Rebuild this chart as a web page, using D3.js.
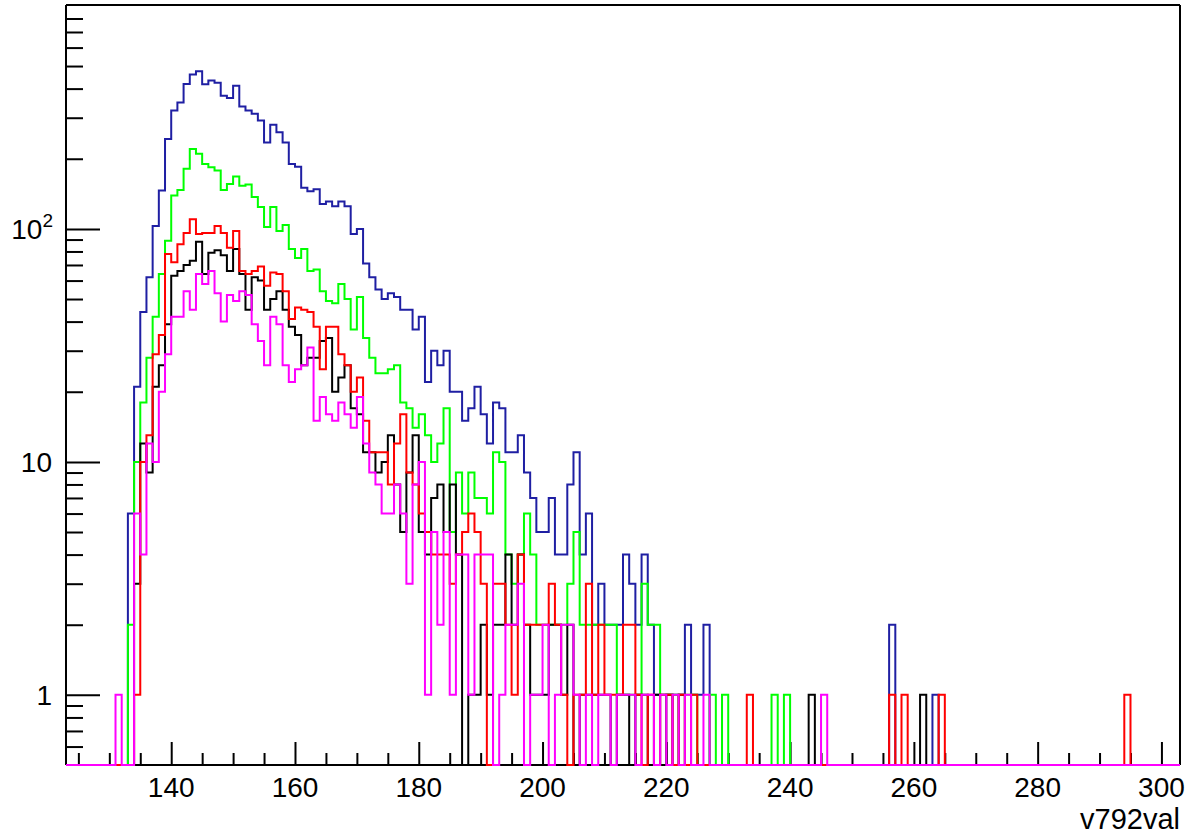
<!DOCTYPE html>
<html><head><meta charset="utf-8">
<script src="https://cdnjs.cloudflare.com/ajax/libs/d3/7.8.5/d3.min.js"></script>
<style>
body{margin:0;background:#fff;}
text{font-family:"Liberation Sans",Arial,Helvetica,sans-serif;fill:#000;}
</style></head>
<body>
<svg id="c" width="1188" height="834"></svg>
<script>
// Histogram bins have width 1; main arrays start at bin low edge 131
const firstBin = 131;
const blueMain = [0,0,6,21,44,62,103,146,243,322,349,419,460,475,418,433,424,373,365,412,335,322,312,292,235,280,260,235,190,185,150,145,148,128,131,125,131,125,95,100,71,62,55,50,53,51,45,45,37,42,22,30,26,30,20,20,15,17,21,16,12,18,17,11,11,13,9,7,5,5,7,4,4,8,11,4,6,2,3,2,2,2,4,3,2,4,2,1,1,1,1,1,2,1,1,2];
const blueTail = [[256,2],[263,1]];
const greenMain = [0,0,2,10,18,28,42,64,89,139,147,181,220,210,190,184,178,147,156,168,153,155,137,124,102,124,98,104,82,75,82,66,67,54,49,48,58,50,37,51,34,28,24,24,25,26,18,17,14,16,13,10,12,17,5,9,6,9,7,7,6,11,10,4,3,4,6,4,2,2,2,2,2,3,5,2,2,2,2,2,2,1,1,1,1,3,2,2,1,1,1,0,1,1,0,0,1,0,1];
const greenTail = [[237,1],[239,1]];
const blackMain = [0,0,0,3,12,9,21,26,39,63,66,70,73,88,64,79,81,77,66,82,64,45,62,60,45,50,54,45,38,35,26,28,28,33,34,20,23,26,17,16,11,11,9,10,13,8,5,9,13,5,4,7,8,5,8,4,0,1,1,2,1,2,2,4,2,4,2,1,1,1,2,2,1,2,0,1,1,1,1,1,0,1,1,0,1,1,0,1,0,1,0,1];
const blackTail = [[243,1],[261,1]];
const redMain = [0,0,0,1,10,13,29,35,78,72,86,96,110,95,96,96,103,96,83,98,66,64,66,69,57,65,64,54,41,46,45,44,38,25,38,38,29,26,20,23,15,11,11,11,8,12,16,9,8,6,5,4,4,4,3,4,5,6,5,3,0,3,3,2,1,4,2,2,2,2,3,2,1,0,1,1,3,1,2,1,1,1,2,2,1,0,1,0,1,1,0,1,0,1];
const redTail = [[233,1],[256,1],[258,1],[264,1],[294,1]];
const magentaMain = [1,0,0,6,4,12,10,20,29,42,42,54,45,64,58,66,53,40,52,49,54,52,39,33,26,42,39,26,22,25,26,31,15,19,16,15,18,16,14,19,12,9,8,6,6,8,6,3,8,10,1,5,2,5,1,4,4,1,4,4,4,0,1,2,2,3,0,1,1,2,0,1,2,2,1,0,1,0,1,1,0,1,1,1,0,1,1,0,1,0,1,0,1,0,0,1];
const magentaTail = [[245,1]];

const xMin = 123, xMax = 303;
const xMajorTicks = [140,160,180,200,220,240,260,280,300];
const xMinorTicks = d3.range(125,301,5).filter(v=>v%20!==0);
const yMajorTicks = [1,10,100];
const yMinorTicks = [0.6,0.7,0.8,0.9,2,3,4,5,6,7,8,9,20,30,40,50,60,70,80,90,200,300,400,500,600,700,800];
const xTitle = "v792val";

const series = [
  {name:"blue", main:blueMain, tail:blueTail, color:"#1f1fa3"},
  {name:"green", main:greenMain, tail:greenTail, color:"#00ff00"},
  {name:"black", main:blackMain, tail:blackTail, color:"#000000"},
  {name:"red", main:redMain, tail:redTail, color:"#ff0000"},
  {name:"magenta", main:magentaMain, tail:magentaTail, color:"#ff00ff"}
];

const L=66, R=1180, T=5, B=765;
const x = d3.scaleLinear().domain([xMin,xMax]).range([L,R]);
const y = d3.scaleLog().domain([0.5,914]).range([B,T]);
const svg = d3.select("#c");

function binsOf(s){
  const vals = new Map();
  s.main.forEach((v,i)=>vals.set(firstBin+i,v));
  s.tail.forEach(([b,v])=>vals.set(b,v));
  const pts=[];
  for(let e=xMin;e<xMax;e++){ pts.push([e, vals.get(e)||0]); }
  pts.push([xMax, vals.get(xMax-1)||0]);
  return pts;
}
const line = d3.line()
  .x(d=>x(d[0]))
  .y(d=>d[1]>=0.5 ? y(d[1]) : B)
  .curve(d3.curveStepAfter);

const g = svg.append("g");
series.forEach(s=>{
  g.append("path").attr("d", line(binsOf(s)))
   .attr("fill","none").attr("stroke",s.color).attr("stroke-width",2)
   .attr("stroke-linejoin","miter");
});

// frame top/right
svg.append("line").attr("x1",L).attr("x2",R).attr("y1",T).attr("y2",T).attr("stroke","#000").attr("stroke-width",2);
svg.append("line").attr("x1",R).attr("x2",R).attr("y1",T).attr("y2",B).attr("stroke","#000").attr("stroke-width",2);

// x axis
const xa = svg.append("g").attr("transform",`translate(0,${B})`);
xa.call(d3.axisBottom(x).tickValues(xMajorTicks).tickSize(-23).tickFormat(""));
xa.call(g2=>g2.select(".domain").remove());
const xa2 = svg.append("g").attr("transform",`translate(0,${B})`);
xa2.call(d3.axisBottom(x).tickValues(xMinorTicks).tickSize(-12).tickFormat(""));
xa2.select(".domain").remove();
svg.selectAll(".tick line").attr("stroke","#000").attr("stroke-width",2);
svg.append("g").selectAll("text").data(xMajorTicks).join("text")
  .attr("x",d=>x(d)).attr("y",797).attr("text-anchor","middle")
  .attr("font-size",28).text(d=>d);
svg.append("text").attr("x",1180).attr("y",829).attr("text-anchor","end")
  .attr("font-size",29).text(xTitle);

// y axis
const ya = svg.append("g").attr("transform",`translate(${L},0)`);
ya.call(d3.axisLeft(y).tickValues(yMajorTicks).tickSize(-34).tickFormat(""));
ya.select(".domain").remove();
const ya2 = svg.append("g").attr("transform",`translate(${L},0)`);
ya2.call(d3.axisLeft(y).tickValues(yMinorTicks).tickSize(-17).tickFormat(""));
ya2.select(".domain").remove();
svg.selectAll(".tick line").attr("stroke","#000").attr("stroke-width",2);
yMajorTicks.forEach(v=>{
  const t = svg.append("text").attr("x", v===100?53:52).attr("y",y(v)+10)
    .attr("text-anchor","end").attr("font-size",28);
  if(v===100){
    t.append("tspan").text("10");
    t.append("tspan").attr("font-size",19).attr("dy",-12).text("2");
  } else t.text(String(v));
});
svg.append("line").attr("x1",L).attr("x2",L).attr("y1",T).attr("y2",B).attr("stroke","#000").attr("stroke-width",2);
svg.append("line").attr("x1",L).attr("x2",R).attr("y1",B).attr("y2",B).attr("stroke","#000").attr("stroke-width",2).lower();
g.raise();
</script>
</body></html>
